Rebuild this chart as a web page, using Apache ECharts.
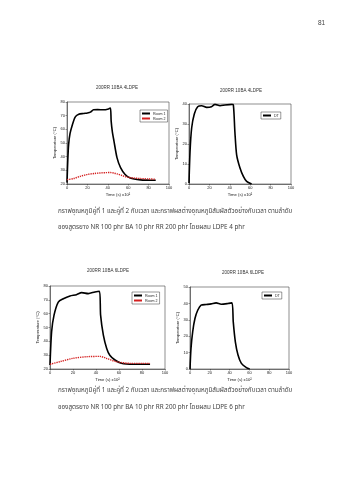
<!DOCTYPE html>
<html><head><meta charset="utf-8">
<script src="https://cdn.jsdelivr.net/npm/echarts@6/dist/echarts.min.js"></script>
<style>html,body{margin:0;padding:0;background:#fff}#c{width:339px;height:480px}</style>
</head><body><div id="c"></div>
<script>
// ---- data (time in units of 100 s) ----
const titles = ["200RR 10BA 4LDPE", "200RR 10BA 4LDPE", "200RR 10BA 6LDPE", "200RR 10BA 6LDPE"];
const xTicks = [0, 20, 40, 60, 80, 100];

// Chart 1 (4 LDPE) Room 1
const c1Room1T = [0, 0.8, 1.6, 3, 5, 8, 11.5, 16, 20, 23, 26, 30, 36, 41, 42.6, 43.3, 44.5, 46, 49, 52.5, 57, 62, 72, 80, 87];
const c1Room1V = [21, 38, 49, 57, 62.7, 69, 71, 71.6, 72, 72.6, 74.3, 74.4, 74.3, 75, 75.5, 66, 58, 51.6, 39.3, 32, 27, 24.4, 23, 22.8, 22.7];
// Chart 1 Room 2
const c1Room2T = [0, 6.5, 13, 20, 27, 33, 38, 42.6, 46, 49, 54, 59, 65, 72, 80, 87];
const c1Room2V = [23.2, 24, 25.6, 27, 27.7, 28.1, 28.3, 28.4, 28, 27.4, 26.2, 25, 24.4, 24, 23.7, 23.5];
// Chart 2 (4 LDPE) DT
const c2DTT = [0, 1, 2.6, 5.2, 8.5, 12.4, 17.3, 22, 25.5, 30.4, 35.3, 41.8, 43.5, 45, 46.7, 50, 53.3, 56.5, 61.4];
const c2DTV = [0.5, 16, 28, 35, 38.6, 39.1, 38.3, 38.6, 39.8, 39.1, 39.5, 39.8, 39.5, 26, 14.6, 8, 3.8, 1.3, 0];
// Chart 3 (6 LDPE) Room 1
const c3Room1T = [0, 1.4, 3.5, 7.2, 11.6, 17.4, 23, 27.5, 33.3, 39, 43, 44, 46.4, 49.3, 52, 56.5, 62, 72.5, 80, 87];
const c3Room1V = [22.9, 46.9, 58.9, 68.4, 70.8, 72.8, 73.7, 75.2, 74.5, 75.7, 76.2, 58.9, 44.5, 34.9, 30, 26.5, 24.1, 23.4, 23.4, 23.4];
// Chart 3 Room 2
const c3Room2T = [0, 8.7, 20, 32, 43.5, 49, 57.7, 69.6, 80, 87];
const c3Room2V = [23.4, 25.3, 27.7, 28.9, 29.1, 27.7, 25.3, 24.1, 24.1, 24.1];
// Chart 4 (6 LDPE) DT
const c4DTT = [0, 1, 2.7, 5, 7.8, 11.2, 16.3, 21.4, 26.4, 31.5, 38.3, 42.4, 43.7, 45.8, 48.5, 51.9, 57, 60.3];
const c4DTV = [0, 12.5, 22.7, 30.8, 35.8, 38.9, 39.3, 39.7, 40.3, 39.5, 39.9, 40.3, 28.7, 16.6, 8.5, 3.4, 0.8, 0];

const captions = [
  "กราฟอุณหภูมิคู่ที่ 1 และคู่ที่ 2 กับเวลา และกราฟผลต่างอุณหภูมิสัมผัสตัวอย่างกับเวลา ตามลำดับ",
  "ของสูตรยาง NR 100 phr BA 10 phr RR 200 phr โดยผสม LDPE 4 phr",
  "กราฟอุณหภูมิคู่ที่ 1 และคู่ที่ 2 กับเวลา และกราฟผลต่างอุณหภูมิสัมผัสตัวอย่างกับเวลา ตามลำดับ",
  "ของสูตรยาง NR 100 phr BA 10 phr RR 200 phr โดยผสม LDPE 6 phr"
];

const pairs = (t, v) => t.map((x, i) => [x, v[i]]);
const FONT = "Liberation Sans, Arial, sans-serif";
const THAI = "Noto Sans Thai, Loma, Garuda, Tlwg Typo, sans-serif";

const grids = [
  {left: 67, top: 102, width: 102, height: 82},
  {left: 189, top: 104, width: 102, height: 80},
  {left: 50, top: 286, width: 115, height: 83},
  {left: 190, top: 287, width: 99, height: 82}
];
const yRanges = [[20, 80], [0, 40], [20, 80], [0, 50]];
const titleCenters = [[117, 85], [241, 88], [108, 268], [243, 270]];

const axisLabel = {fontSize: 4, color: '#222', fontFamily: FONT, margin: 2};
const xAxis = grids.map((g, i) => ({
  type: 'value', gridIndex: i, min: 0, max: 100, interval: 20,
  name: 'Time (s) x10²', nameLocation: 'middle', nameGap: 9,
  nameTextStyle: {fontSize: 4.2, color: '#222', fontFamily: FONT},
  axisLine: {show: true, lineStyle: {color: '#333', width: 0.6}},
  axisTick: {show: true, length: 1.5, lineStyle: {color: '#333', width: 0.5}},
  axisLabel: axisLabel, splitLine: {show: false}
}));
const yAxis = grids.map((g, i) => ({
  type: 'value', gridIndex: i, min: yRanges[i][0], max: yRanges[i][1], interval: 10,
  name: 'Temperature (°C)', nameLocation: 'middle', nameGap: 8,
  nameTextStyle: {fontSize: 4.2, color: '#222', fontFamily: FONT},
  axisLine: {show: true, lineStyle: {color: '#333', width: 0.6}},
  axisTick: {show: true, length: 1.5, lineStyle: {color: '#333', width: 0.5}},
  axisLabel: axisLabel, splitLine: {show: false}
}));

const blackLine = (name, i, data) => ({
  name: name, type: 'line', xAxisIndex: i, yAxisIndex: i, data: data,
  showSymbol: false, smooth: 0.25, lineStyle: {color: '#000', width: 1.6}, itemStyle: {color: '#000'}
});
const redLine = (name, i, data) => ({
  name: name, type: 'line', xAxisIndex: i, yAxisIndex: i, data: data,
  showSymbol: false, smooth: 0.3, lineStyle: {color: '#d42020', width: 1.4, type: [1.3, 0.9]}, itemStyle: {color: '#d42020'}
});

const series = [
  blackLine('Room 1', 0, pairs(c1Room1T, c1Room1V)),
  redLine('Room 2', 0, pairs(c1Room2T, c1Room2V)),
  blackLine('DT', 1, pairs(c2DTT, c2DTV)),
  blackLine('Room 1 ', 2, pairs(c3Room1T, c3Room1V)),
  redLine('Room 2 ', 2, pairs(c3Room2T, c3Room2V)),
  blackLine('DT ', 3, pairs(c4DTT, c4DTV))
];

const legendBase = {
  orient: 'vertical', itemWidth: 8, itemHeight: 2, itemGap: 1, padding: [1.5, 2, 1.5, 2],
  borderColor: '#333', borderWidth: 0.5, backgroundColor: '#fff',
  textStyle: {fontSize: 3.6, color: '#222', fontFamily: FONT, padding: [0, 0, 0, -2]},
  icon: 'rect'
};
const legend = [
  Object.assign({}, legendBase, {left: 140, top: 110, data: ['Room 1', 'Room 2']}),
  Object.assign({}, legendBase, {left: 261, top: 112, data: ['DT']}),
  Object.assign({}, legendBase, {left: 132, top: 292, data: ['Room 1 ', 'Room 2 ']}),
  Object.assign({}, legendBase, {left: 262, top: 292, data: ['DT ']})
];
legend.forEach(l => { l.formatter = n => n.trim(); });

const title = titles.map((t, i) => ({
  text: t, left: titleCenters[i][0], top: titleCenters[i][1], textAlign: 'center', padding: 0,
  textStyle: {fontSize: 4.5, fontWeight: 'normal', color: '#333', fontFamily: FONT}
}));

const capPos = [[58, 209], [58, 225], [58, 388], [58, 405]];
const graphic = captions.map((c, i) => ({
  type: 'text', left: capPos[i][0], top: capPos[i][1],
  style: {text: c, fontSize: 6.3, fill: '#444', fontFamily: THAI}
}));
graphic.push({type: 'text', left: 318, top: 20, style: {text: '81', fontSize: 6.5, fill: '#444', fontFamily: FONT}});

const chart = echarts.init(document.getElementById('c'), null, {renderer: 'canvas'});
chart.setOption({
  animation: false, backgroundColor: '#fff',
  title: title,
  grid: grids.map(g => Object.assign({show: true, borderColor: '#444', borderWidth: 0.6, backgroundColor: '#fff'}, g)),
  xAxis: xAxis, yAxis: yAxis, legend: legend, series: series, graphic: graphic
});
</script></body></html>
